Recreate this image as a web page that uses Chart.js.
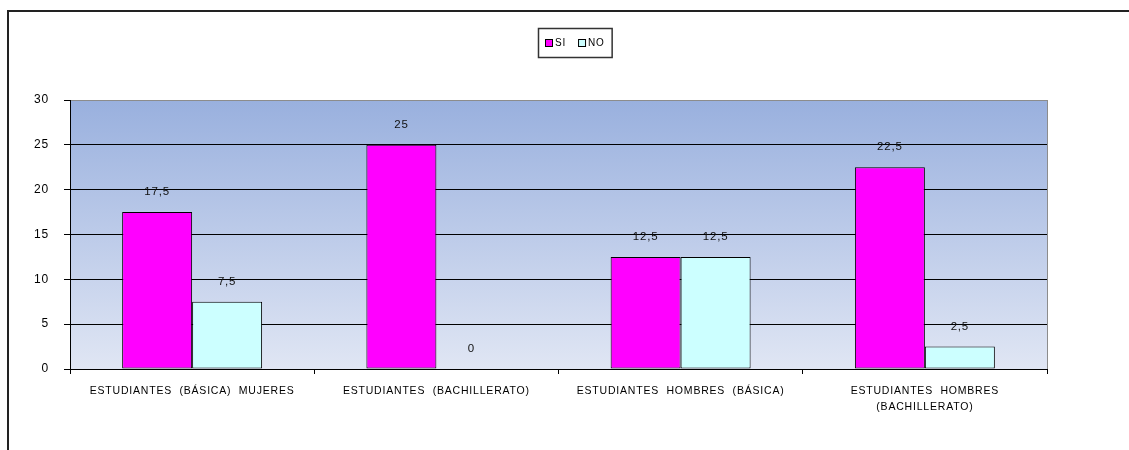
<!DOCTYPE html>
<html>
<head>
<meta charset="utf-8">
<script src="https://cdn.jsdelivr.net/npm/chart.js@4/dist/chart.umd.min.js"></script>
<style>
  html, body { margin: 0; padding: 0; background: #fff; }
  #wrap { width: 1129px; height: 450px; position: relative; }
</style>
</head>
<body>
<div id="wrap"><canvas id="c" width="1129" height="450"></canvas></div>
<script>
const categories = [
  'ESTUDIANTES  (BÁSICA)  MUJERES',
  'ESTUDIANTES  (BACHILLERATO)',
  'ESTUDIANTES  HOMBRES  (BÁSICA)',
  ['ESTUDIANTES  HOMBRES', '(BACHILLERATO)']
];
const siValues = [17.5, 25, 12.5, 22.5];
const noValues = [7.5, 0, 12.5, 2.5];
const yTicks = [0, 5, 10, 15, 20, 25, 30];

const FONT = 'Liberation Sans, Arial, sans-serif';

const fmt = v => String(v).replace('.', ',');

// Frame, plot background gradient, plot border, legend
const decor = {
  id: 'decor',
  beforeDraw(chart) {
    const { ctx, chartArea: a, width, height } = chart;
    ctx.save();
    ctx.fillStyle = '#fff';
    ctx.fillRect(0, 0, width, height);
    const g = ctx.createLinearGradient(0, a.top, 0, a.bottom);
    g.addColorStop(0, '#99b0de');
    g.addColorStop(1, '#e0e6f4');
    ctx.fillStyle = g;
    ctx.fillRect(a.left, a.top, a.right - a.left, a.bottom - a.top);
    // outer frame
    ctx.strokeStyle = '#222';
    ctx.lineWidth = 2;
    ctx.beginPath();
    ctx.moveTo(width + 2, 11);
    ctx.lineTo(8, 11);
    ctx.lineTo(8, height + 2);
    ctx.stroke();
    ctx.restore();
    // wide glyph spacing for all chart text
    ctx.letterSpacing = '0.8px';
  },
  afterDraw(chart) {
    const { ctx, chartArea: a } = chart;
    ctx.save();
    ctx.strokeStyle = '#8c8c8c';
    ctx.lineWidth = 1;
    ctx.beginPath();
    ctx.moveTo(Math.round(a.right) + 0.5, a.top);
    ctx.lineTo(Math.round(a.right) + 0.5, a.bottom);
    ctx.stroke();

    // legend box
    const ds = chart.data.datasets;
    ctx.font = '10px ' + FONT;
    const box = 8, gap = 2, itemGap = 12, padX = 7;
    let total = 0;
    const widths = ds.map(d => ctx.measureText(d.label).width);
    widths.forEach((w, i) => { total += box + gap + w + (i < ds.length - 1 ? itemGap : 0); });
    const bw = total + padX * 2, bh = 29;
    const bx = Math.round(575 - bw / 2), by = 28;
    ctx.fillStyle = '#fff';
    ctx.fillRect(bx, by, bw, bh);
    ctx.strokeStyle = '#333';
    ctx.lineWidth = 1.5;
    ctx.strokeRect(bx + 0.5, by + 0.5, bw, bh);
    let x = bx + padX;
    const cy = by + bh / 2 + 0.5;
    ds.forEach((d, i) => {
      ctx.fillStyle = d.backgroundColor;
      ctx.fillRect(x, cy - box / 2, box, box);
      ctx.strokeStyle = '#000';
      ctx.lineWidth = 1;
      ctx.strokeRect(x + 0.5, cy - box / 2 + 0.5, box - 1, box - 1);
      x += box + gap;
      ctx.fillStyle = '#000';
      ctx.textAlign = 'left';
      ctx.textBaseline = 'middle';
      ctx.fillText(d.label, x, cy);
      x += widths[i] + itemGap;
    });
    ctx.restore();
  }
};

// Value labels above each bar
const valueLabels = {
  id: 'valueLabels',
  afterDatasetsDraw(chart) {
    const { ctx } = chart;
    ctx.save();
    ctx.font = '11.5px ' + FONT;
    ctx.fillStyle = '#111';
    ctx.textAlign = 'center';
    ctx.textBaseline = 'middle';
    chart.data.datasets.forEach((d, i) => {
      chart.getDatasetMeta(i).data.forEach((el, j) => {
        ctx.fillText(fmt(d.data[j]), el.x, el.y - 20);
      });
    });
    ctx.restore();
  }
};

new Chart(document.getElementById('c'), {
  type: 'bar',
  data: {
    labels: categories,
    datasets: [
      { label: 'SI', data: siValues, backgroundColor: '#ff00ff', borderColor: '#000', borderWidth: 1, borderSkipped: false },
      { label: 'NO', data: noValues, backgroundColor: '#ccffff', borderColor: '#000', borderWidth: 1, borderSkipped: false }
    ]
  },
  options: {
    responsive: false,
    animation: false,
    devicePixelRatio: 1,
    layout: { padding: { top: 100, left: 0, right: 82, bottom: 0 } },
    datasets: { bar: { categoryPercentage: 0.573, barPercentage: 1 } },
    plugins: { legend: { display: false }, tooltip: { enabled: false } },
    scales: {
      x: {
        offset: true,
        grid: { offset: true, drawOnChartArea: false, color: '#000', tickLength: 5, tickColor: '#000' },
        border: { color: '#000', width: 1 },
        ticks: { color: '#000', font: { family: FONT, size: 10.5, lineHeight: 1.5 }, padding: 9, maxRotation: 0, autoSkip: false },
        afterFit(s) { s.height = 81; }
      },
      y: {
        min: 0, max: 30,
        afterBuildTicks(s) { s.ticks = yTicks.map(v => ({ value: v })); },
        grid: {
          color: c => (c.tick && c.tick.value === 30 ? '#8c8c8c' : '#000'),
          tickColor: '#000',
          tickLength: 6
        },
        border: { color: '#000', width: 1 },
        ticks: { color: '#000', font: { family: FONT, size: 12 }, padding: 15 },
        afterFit(s) { s.width = 70; }
      }
    }
  },
  plugins: [decor, valueLabels]
});
</script>
</body>
</html>
